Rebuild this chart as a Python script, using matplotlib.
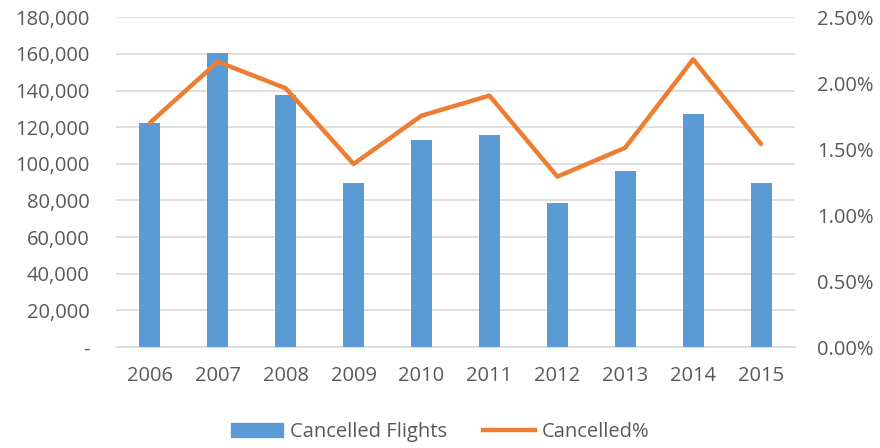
import matplotlib.pyplot as plt
from matplotlib.ticker import FuncFormatter
from matplotlib.patches import Patch
from matplotlib.lines import Line2D

years = ['2006', '2007', '2008', '2009', '2010', '2011', '2012', '2013', '2014', '2015']
cancelled = [122100, 160700, 137400, 89400, 113000, 115700, 78800, 96300, 127000, 89700]
cancelled_pct = [1.70, 2.163, 1.962, 1.388, 1.754, 1.906, 1.292, 1.511, 2.181, 1.539]

blauw = '#5B9BD5'
oranje = '#ED7D31'
grijs = '#595959'

plt.rcParams['font.family'] = ['Open Sans', 'DejaVu Sans']

fig = plt.figure(figsize=(8.8, 4.48), dpi=100)
ax = fig.add_axes([0.1318, 0.2254, 0.7716, 0.736])
ax2 = ax.twinx()

x = list(range(len(years)))

# staven
ax.bar(x, cancelled, width=0.31, color=blauw, zorder=3)
ax.set_ylim(0, 180000)
ax.set_yticks(range(0, 180001, 20000))
ax.yaxis.set_major_formatter(FuncFormatter(lambda v, p: '-' if v == 0 else '{:,.0f}'.format(v)))
ax.grid(axis='y', color='#D9D9D9', linewidth=1.2, zorder=0)
ax.set_axisbelow(True)
ax.set_xlim(-0.5, 9.5)
ax.set_xticks(x)
ax.set_xticklabels(years)

# lijn
ax2.plot(x, cancelled_pct, color=oranje, linewidth=3.2, solid_capstyle='round', zorder=4)
ax2.set_ylim(0, 2.5)
ax2.set_yticks([0, 0.5, 1.0, 1.5, 2.0, 2.5])
ax2.yaxis.set_major_formatter(FuncFormatter(lambda v, p: '{:.2f}%'.format(v)))

for a in (ax, ax2):
    for s in a.spines.values():
        s.set_visible(False)
    a.tick_params(length=0, colors=grijs, labelsize=14.5)
ax.spines['bottom'].set_visible(True)
ax.spines['bottom'].set_color('#D9D9D9')
ax.spines['bottom'].set_linewidth(1.2)
ax.tick_params(axis='y', pad=19)
ax.tick_params(axis='x', pad=14)
ax2.tick_params(axis='y', pad=16)

handles = [Patch(color=blauw, label='Cancelled Flights'),
           Line2D([0], [0], color=oranje, linewidth=3.2, label='Cancelled%')]
fig.legend(handles=handles, loc='center', bbox_to_anchor=(0.5, 0.035), ncol=2,
           frameon=False, fontsize=14.5, labelcolor=grijs, handlelength=2.6,
           handletextpad=0.3, columnspacing=1.8)

plt.savefig('out.png', dpi=100)
